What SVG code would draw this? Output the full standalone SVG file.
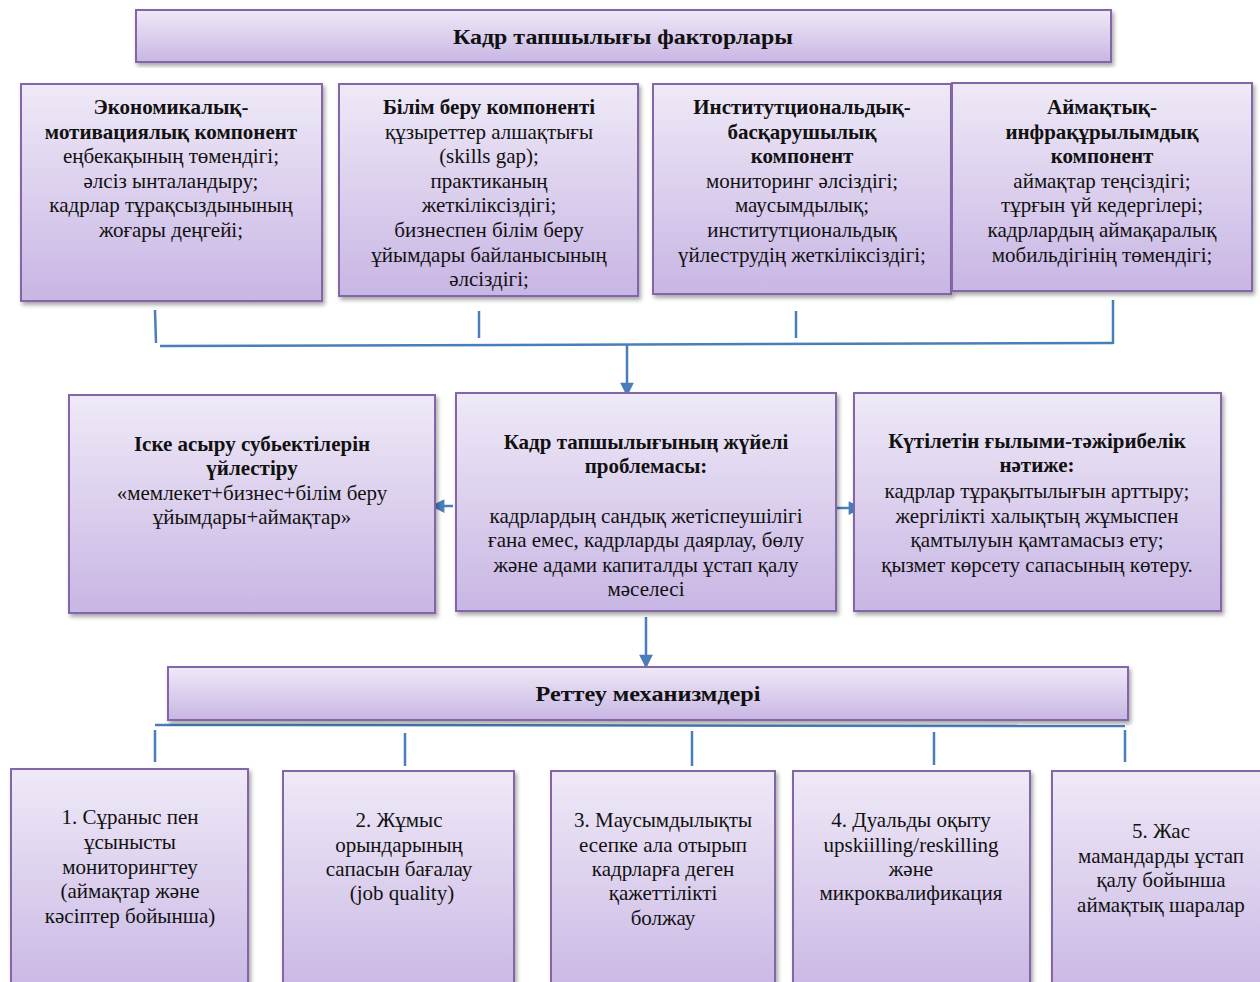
<svg xmlns="http://www.w3.org/2000/svg" width="1260" height="982" viewBox="0 0 1260 982">
<defs>
<linearGradient id="g" x1="0" y1="0" x2="0" y2="1">
<stop offset="0" stop-color="#efe9f7"/>
<stop offset="1" stop-color="#c8b6e4"/>
</linearGradient>
<filter id="sh" x="-5%" y="-5%" width="112%" height="115%">
<feDropShadow dx="2" dy="3" stdDeviation="2" flood-color="#000" flood-opacity="0.35"/>
</filter>
<marker id="ah" viewBox="0 0 10 10" refX="9" refY="5" markerWidth="6" markerHeight="5.5" orient="auto" markerUnits="strokeWidth">
<path d="M0,0 L10,5 L0,10 z" fill="#4a7ebb"/>
</marker>
<style>
.box{fill:url(#g);stroke:#8366a8;stroke-width:2;filter:url(#sh)}
text{font-family:"Liberation Serif","Times New Roman",serif;font-size:21px;fill:#111;text-anchor:middle}
.b{font-weight:bold}
.h{font-weight:bold;font-size:22px}
.c{stroke:#4a7ebb;stroke-width:2.5;fill:none}
</style>
</defs>
<rect width="1260" height="982" fill="#fff"/>

<g id="connectors">
<line class="c" x1="155" y1="310" x2="156" y2="343"/>
<line class="c" x1="479" y1="311" x2="479" y2="338"/>
<line class="c" x1="796" y1="311" x2="796" y2="338"/>
<line class="c" x1="1113" y1="300" x2="1113" y2="344"/>
<line class="c" x1="160" y1="346" x2="1113" y2="343"/>
<line class="c" x1="627" y1="344" x2="627" y2="395" marker-end="url(#ah)"/>
<line class="c" x1="453" y1="506" x2="432" y2="506" marker-end="url(#ah)"/>
<line class="c" x1="836" y1="508" x2="861" y2="508" marker-end="url(#ah)"/>
<line class="c" x1="646" y1="617" x2="646" y2="667" marker-end="url(#ah)"/>
<line class="c" x1="155" y1="725" x2="1125" y2="726"/>
<line class="c" x1="155" y1="730" x2="155" y2="762"/>
<line class="c" x1="405" y1="733" x2="405" y2="766"/>
<line class="c" x1="692" y1="731" x2="692" y2="766"/>
<line class="c" x1="934" y1="732" x2="934" y2="765"/>
<line class="c" x1="1125" y1="730" x2="1125" y2="762"/>
</g>

<g id="title">
<rect class="box" x="136" y="10" width="975" height="52"/>
<text class="h" x="623" y="44" textLength="340" lengthAdjust="spacingAndGlyphs">Кадр тапшылығы факторлары</text>
</g>

<g id="econ">
<rect class="box" x="21" y="84" width="301" height="217"/>
<text x="171" y="114" class="b">Экономикалық-</text>
<text x="171" y="139" class="b">мотивациялық компонент</text>
<text x="171" y="163">еңбекақының төмендігі;</text>
<text x="171" y="188">әлсіз ынталандыру;</text>
<text x="171" y="212">кадрлар тұрақсыздынының</text>
<text x="171" y="237">жоғары деңгейі;</text>
</g>

<g id="edu">
<rect class="box" x="339" y="84" width="299" height="212"/>
<text x="489" y="114" class="b">Білім беру компоненті</text>
<text x="489" y="139">құзыреттер алшақтығы</text>
<text x="489" y="163">(skills gap);</text>
<text x="489" y="188">практиканың</text>
<text x="489" y="212">жеткіліксіздігі;</text>
<text x="489" y="237">бизнеспен білім беру</text>
<text x="489" y="262">ұйымдары байланысының</text>
<text x="489" y="286">әлсіздігі;</text>
</g>

<g id="inst">
<rect class="box" x="653" y="84" width="298" height="210"/>
<text x="802" y="114" class="b">Институтциональдық-</text>
<text x="802" y="139" class="b">басқарушылық</text>
<text x="802" y="163" class="b">компонент</text>
<text x="802" y="188">мониторинг әлсіздігі;</text>
<text x="802" y="212">маусымдылық;</text>
<text x="802" y="237">институтциональдық</text>
<text x="802" y="262">үйлеструдің жеткіліксіздігі;</text>
</g>

<g id="region">
<rect class="box" x="952" y="83" width="300" height="208"/>
<text x="1102" y="114" class="b">Аймақтық-</text>
<text x="1102" y="139" class="b">инфрақұрылымдық</text>
<text x="1102" y="163" class="b">компонент</text>
<text x="1102" y="188">аймақтар теңсіздігі;</text>
<text x="1102" y="212">тұрғын үй кедергілері;</text>
<text x="1102" y="237">кадрлардың аймақаралық</text>
<text x="1102" y="262">мобильдігінің төмендігі;</text>
</g>

<g id="coord">
<rect class="box" x="69" y="395" width="366" height="218"/>
<text x="252" y="451" class="b">Іске асыру субьектілерін</text>
<text x="252" y="475" class="b">үйлестіру</text>
<text x="252" y="500">«мемлекет+бизнес+білім беру</text>
<text x="252" y="524">ұйымдары+аймақтар»</text>
</g>

<g id="problem">
<rect class="box" x="456" y="393" width="380" height="218"/>
<text x="646" y="449" class="b">Кадр тапшылығының жүйелі</text>
<text x="646" y="473" class="b">проблемасы:</text>
<text x="646" y="523">кадрлардың сандық жетіспеушілігі</text>
<text x="646" y="547">ғана емес, кадрларды даярлау, бөлу</text>
<text x="646" y="572">және адами капиталды ұстап қалу</text>
<text x="646" y="596">мәселесі</text>
</g>

<g id="result">
<rect class="box" x="854" y="393" width="367" height="218"/>
<text x="1037" y="448" class="b">Күтілетін ғылыми-тәжірибелік</text>
<text x="1037" y="472" class="b">нәтиже:</text>
<text x="1037" y="498">кадрлар тұрақытылығын арттыру;</text>
<text x="1037" y="523">жергілікті халықтың жұмыспен</text>
<text x="1037" y="547">қамтылуын қамтамасыз ету;</text>
<text x="1037" y="572">қызмет көрсету сапасының көтеру.</text>
</g>

<g id="mech">
<rect class="box" x="168" y="667" width="960" height="53"/>
<text class="h" x="648" y="701" textLength="225" lengthAdjust="spacingAndGlyphs">Реттеу механизмдері</text>
</g>

<g id="m1">
<rect class="box" x="11" y="769" width="237" height="230"/>
<text x="130" y="824">1. Сұраныс пен</text>
<text x="130" y="849">ұсынысты</text>
<text x="130" y="874">мониторингтеу</text>
<text x="130" y="898">(аймақтар және</text>
<text x="130" y="923">кәсіптер бойынша)</text>
</g>

<g id="m2">
<rect class="box" x="283" y="771" width="231" height="230"/>
<text x="399" y="827">2. Жұмыс</text>
<text x="399" y="852">орындарының</text>
<text x="399" y="876">сапасын бағалау</text>
<text x="402" y="900">(job quality)</text>
</g>

<g id="m3">
<rect class="box" x="551" y="771" width="224" height="230"/>
<text x="663" y="827">3. Маусымдылықты</text>
<text x="663" y="852">есепке ала отырып</text>
<text x="663" y="876">кадрларға деген</text>
<text x="663" y="900">қажеттілікті</text>
<text x="663" y="925">болжау</text>
</g>

<g id="m4">
<rect class="box" x="793" y="771" width="237" height="230"/>
<text x="911" y="827">4. Дуальды оқыту</text>
<text x="911" y="852">upskiilling/reskilling</text>
<text x="911" y="876">және</text>
<text x="911" y="900">микроквалификация</text>
</g>

<g id="m5">
<rect class="box" x="1052" y="771" width="230" height="230"/>
<text x="1161" y="838">5. Жас</text>
<text x="1161" y="863">мамандарды ұстап</text>
<text x="1161" y="887">қалу бойынша</text>
<text x="1161" y="912">аймақтық шаралар</text>
</g>
</svg>
